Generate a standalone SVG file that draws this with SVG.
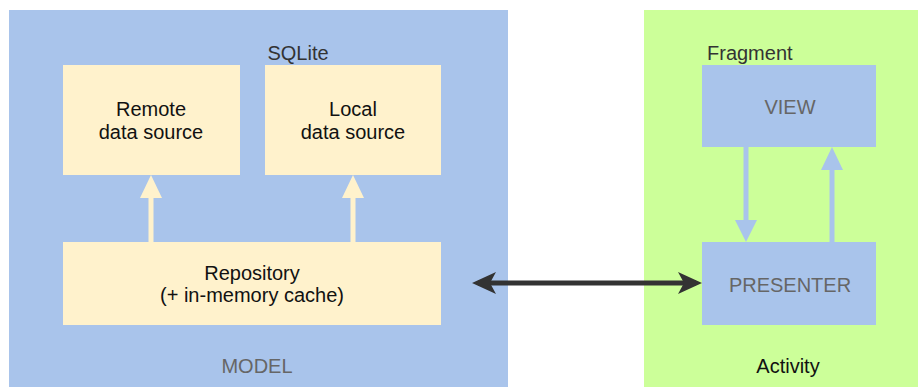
<svg xmlns="http://www.w3.org/2000/svg" width="918" height="387" viewBox="0 0 918 387">
<style>
text{font-family:"Liberation Sans",Arial,sans-serif;font-size:20px;text-anchor:middle}
.y{fill:#FFF2CC}
.b{fill:#A9C4EB}
.dk{fill:#111111}
.gr{fill:#666666}
.g3{fill:#333333}
</style>
<defs>
<marker id="ah" markerUnits="userSpaceOnUse" markerWidth="24" markerHeight="22" refX="18" refY="11" orient="auto-start-reverse">
<path d="M0,0 L24,11 L0,22 L6,11 Z" fill="#333333"/>
</marker>
</defs>
<rect width="918" height="387" fill="#ffffff"/>
<g id="model">
<rect x="9" y="10" width="499" height="377" class="b"/>
<text x="257" y="373" class="gr">MODEL</text>
<text x="298" y="60" class="g3">SQLite</text>
</g>
<g id="activity">
<rect x="644" y="10" width="274" height="377" fill="#CCFF99"/>
<text x="788" y="373" class="dk">Activity</text>
<text x="707" y="60" class="g3" style="text-anchor:start">Fragment</text>
</g>
<g id="remote">
<rect x="63" y="65" width="177" height="110" class="y"/>
<text x="151" y="116" class="dk">Remote</text>
<text x="151" y="139" class="dk">data source</text>
</g>
<g id="local">
<rect x="265" y="65" width="176" height="110" class="y"/>
<text x="353" y="116" class="dk">Local</text>
<text x="353" y="139" class="dk">data source</text>
</g>
<g id="repository">
<rect x="63" y="242" width="378" height="83" class="y"/>
<text x="252" y="280" class="dk">Repository</text>
<text x="252" y="302" class="dk">(+ in-memory cache)</text>
</g>
<g id="view">
<rect x="702" y="65" width="174" height="82" class="b"/>
<text x="790" y="114" class="gr">VIEW</text>
</g>
<g id="presenter">
<rect x="702" y="242" width="174" height="83" class="b"/>
<text x="790" y="292" class="gr">PRESENTER</text>
</g>
<g id="connectors">
<path d="M151,242 V196" stroke="#FFF2CC" stroke-width="5"/>
<path d="M140,198 L151,175 L162,198 Z" class="y"/>
<path d="M353,242 V196" stroke="#FFF2CC" stroke-width="5"/>
<path d="M342,198 L353,175 L364,198 Z" class="y"/>
<path d="M746,147 V222" stroke="#A9C4EB" stroke-width="5"/>
<path d="M735,220 L746,242 L757,220 Z" class="b"/>
<path d="M832,242 V168" stroke="#A9C4EB" stroke-width="5"/>
<path d="M821,170 L832,147 L843,170 Z" class="b"/>
<path d="M478,283 H696" stroke="#333333" stroke-width="5" marker-start="url(#ah)" marker-end="url(#ah)"/>
</g>
</svg>
